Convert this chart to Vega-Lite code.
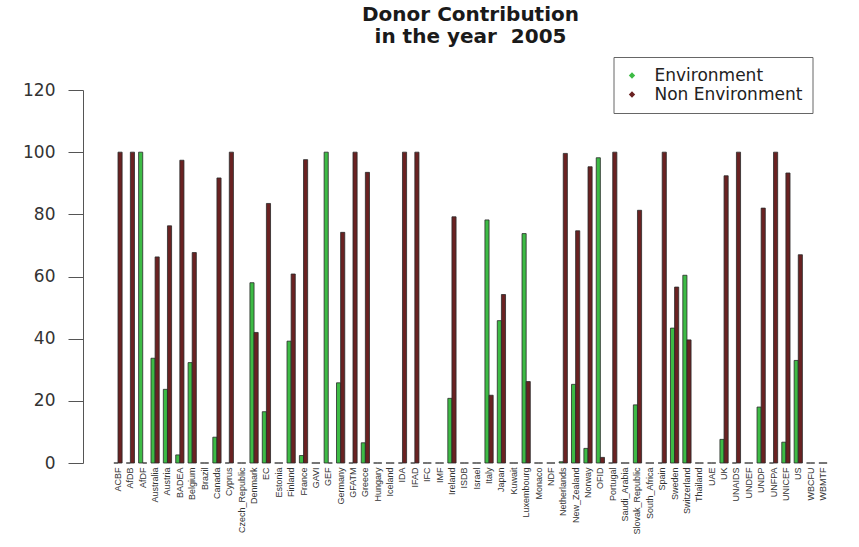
{
  "$schema": "https://vega.github.io/schema/vega-lite/v6.json",
  "autosize": "none",
  "width": 738,
  "height": 373,
  "padding": {"left": 101.5, "top": 90, "right": 19.5, "bottom": 84},
  "background": "white",
  "config": {"view": {"stroke": null}},
  "title": {
    "text": ["Donor Contribution", "in the year \u00a02005"],
    "font": "DejaVu Sans",
    "fontSize": 20,
    "fontWeight": "bold",
    "color": "#1a1a1a",
    "anchor": "middle",
    "frame": "group",
    "offset": 10,
    "lineHeight": 22
  },
  "data": {
    "values": [
      {"donor": "ACBF", "type": "Environment", "value": 0}, {"donor": "ACBF", "type": "Non Environment", "value": 100},
      {"donor": "AfDB", "type": "Environment", "value": 0}, {"donor": "AfDB", "type": "Non Environment", "value": 100},
      {"donor": "AfDF", "type": "Environment", "value": 100}, {"donor": "AfDF", "type": "Non Environment", "value": 0},
      {"donor": "Australia", "type": "Environment", "value": 33.7}, {"donor": "Australia", "type": "Non Environment", "value": 66.3},
      {"donor": "Austria", "type": "Environment", "value": 23.7}, {"donor": "Austria", "type": "Non Environment", "value": 76.3},
      {"donor": "BADEA", "type": "Environment", "value": 2.6}, {"donor": "BADEA", "type": "Non Environment", "value": 97.4},
      {"donor": "Belgium", "type": "Environment", "value": 32.3}, {"donor": "Belgium", "type": "Non Environment", "value": 67.7},
      {"donor": "Brazil", "type": "Environment", "value": 0}, {"donor": "Brazil", "type": "Non Environment", "value": 0},
      {"donor": "Canada", "type": "Environment", "value": 8.3}, {"donor": "Canada", "type": "Non Environment", "value": 91.7},
      {"donor": "Cyprus", "type": "Environment", "value": 0}, {"donor": "Cyprus", "type": "Non Environment", "value": 100},
      {"donor": "Czech_Republic", "type": "Environment", "value": 0}, {"donor": "Czech_Republic", "type": "Non Environment", "value": 0},
      {"donor": "Denmark", "type": "Environment", "value": 58}, {"donor": "Denmark", "type": "Non Environment", "value": 42},
      {"donor": "EC", "type": "Environment", "value": 16.5}, {"donor": "EC", "type": "Non Environment", "value": 83.5},
      {"donor": "Estonia", "type": "Environment", "value": 0}, {"donor": "Estonia", "type": "Non Environment", "value": 0},
      {"donor": "Finland", "type": "Environment", "value": 39.2}, {"donor": "Finland", "type": "Non Environment", "value": 60.8},
      {"donor": "France", "type": "Environment", "value": 2.4}, {"donor": "France", "type": "Non Environment", "value": 97.6},
      {"donor": "GAVI", "type": "Environment", "value": 0}, {"donor": "GAVI", "type": "Non Environment", "value": 0},
      {"donor": "GEF", "type": "Environment", "value": 100}, {"donor": "GEF", "type": "Non Environment", "value": 0},
      {"donor": "Germany", "type": "Environment", "value": 25.8}, {"donor": "Germany", "type": "Non Environment", "value": 74.2},
      {"donor": "GFATM", "type": "Environment", "value": 0}, {"donor": "GFATM", "type": "Non Environment", "value": 100},
      {"donor": "Greece", "type": "Environment", "value": 6.5}, {"donor": "Greece", "type": "Non Environment", "value": 93.5},
      {"donor": "Hungary", "type": "Environment", "value": 0}, {"donor": "Hungary", "type": "Non Environment", "value": 0},
      {"donor": "Iceland", "type": "Environment", "value": 0}, {"donor": "Iceland", "type": "Non Environment", "value": 0},
      {"donor": "IDA", "type": "Environment", "value": 0}, {"donor": "IDA", "type": "Non Environment", "value": 100},
      {"donor": "IFAD", "type": "Environment", "value": 0}, {"donor": "IFAD", "type": "Non Environment", "value": 100},
      {"donor": "IFC", "type": "Environment", "value": 0}, {"donor": "IFC", "type": "Non Environment", "value": 0},
      {"donor": "IMF", "type": "Environment", "value": 0}, {"donor": "IMF", "type": "Non Environment", "value": 0},
      {"donor": "Ireland", "type": "Environment", "value": 20.8}, {"donor": "Ireland", "type": "Non Environment", "value": 79.2},
      {"donor": "ISDB", "type": "Environment", "value": 0}, {"donor": "ISDB", "type": "Non Environment", "value": 0},
      {"donor": "Israel", "type": "Environment", "value": 0}, {"donor": "Israel", "type": "Non Environment", "value": 0},
      {"donor": "Italy", "type": "Environment", "value": 78.2}, {"donor": "Italy", "type": "Non Environment", "value": 21.8},
      {"donor": "Japan", "type": "Environment", "value": 45.8}, {"donor": "Japan", "type": "Non Environment", "value": 54.2},
      {"donor": "Kuwait", "type": "Environment", "value": 0}, {"donor": "Kuwait", "type": "Non Environment", "value": 0},
      {"donor": "Luxembourg", "type": "Environment", "value": 73.8}, {"donor": "Luxembourg", "type": "Non Environment", "value": 26.2},
      {"donor": "Monaco", "type": "Environment", "value": 0}, {"donor": "Monaco", "type": "Non Environment", "value": 0},
      {"donor": "NDF", "type": "Environment", "value": 0}, {"donor": "NDF", "type": "Non Environment", "value": 0},
      {"donor": "Netherlands", "type": "Environment", "value": 0.4}, {"donor": "Netherlands", "type": "Non Environment", "value": 99.6},
      {"donor": "New_Zealand", "type": "Environment", "value": 25.3}, {"donor": "New_Zealand", "type": "Non Environment", "value": 74.7},
      {"donor": "Norway", "type": "Environment", "value": 4.7}, {"donor": "Norway", "type": "Non Environment", "value": 95.3},
      {"donor": "OFID", "type": "Environment", "value": 98.2}, {"donor": "OFID", "type": "Non Environment", "value": 1.8},
      {"donor": "Portugal", "type": "Environment", "value": 0}, {"donor": "Portugal", "type": "Non Environment", "value": 100},
      {"donor": "Saudi_Arabia", "type": "Environment", "value": 0}, {"donor": "Saudi_Arabia", "type": "Non Environment", "value": 0},
      {"donor": "Slovak_Republic", "type": "Environment", "value": 18.7}, {"donor": "Slovak_Republic", "type": "Non Environment", "value": 81.3},
      {"donor": "South_Africa", "type": "Environment", "value": 0}, {"donor": "South_Africa", "type": "Non Environment", "value": 0},
      {"donor": "Spain", "type": "Environment", "value": 0}, {"donor": "Spain", "type": "Non Environment", "value": 100},
      {"donor": "Sweden", "type": "Environment", "value": 43.4}, {"donor": "Sweden", "type": "Non Environment", "value": 56.6},
      {"donor": "Switzerland", "type": "Environment", "value": 60.4}, {"donor": "Switzerland", "type": "Non Environment", "value": 39.6},
      {"donor": "Thailand", "type": "Environment", "value": 0}, {"donor": "Thailand", "type": "Non Environment", "value": 0},
      {"donor": "UAE", "type": "Environment", "value": 0}, {"donor": "UAE", "type": "Non Environment", "value": 0},
      {"donor": "UK", "type": "Environment", "value": 7.6}, {"donor": "UK", "type": "Non Environment", "value": 92.4},
      {"donor": "UNAIDS", "type": "Environment", "value": 0}, {"donor": "UNAIDS", "type": "Non Environment", "value": 100},
      {"donor": "UNDEF", "type": "Environment", "value": 0}, {"donor": "UNDEF", "type": "Non Environment", "value": 0},
      {"donor": "UNDP", "type": "Environment", "value": 18}, {"donor": "UNDP", "type": "Non Environment", "value": 82},
      {"donor": "UNFPA", "type": "Environment", "value": 0}, {"donor": "UNFPA", "type": "Non Environment", "value": 100},
      {"donor": "UNICEF", "type": "Environment", "value": 6.7}, {"donor": "UNICEF", "type": "Non Environment", "value": 93.3},
      {"donor": "US", "type": "Environment", "value": 33}, {"donor": "US", "type": "Non Environment", "value": 67},
      {"donor": "WBCFU", "type": "Environment", "value": 0}, {"donor": "WBCFU", "type": "Non Environment", "value": 0},
      {"donor": "WBMTF", "type": "Environment", "value": 0}, {"donor": "WBMTF", "type": "Non Environment", "value": 0}
    ]
  },
  "mark": {"type": "bar", "stroke": "#2a2a2a", "strokeWidth": 0.8},
  "encoding": {
    "x": {
      "field": "donor",
      "type": "nominal",
      "sort": null,
      "scale": {"paddingInner": 0.333, "paddingOuter": 1},
      "axis": {
        "title": null,
        "domain": false,
        "ticks": false,
        "labelAngle": 270,
        "labelFont": "Liberation Sans",
        "labelFontSize": 9,
        "labelColor": "#333",
        "labelPadding": 4,
        "labelOverlap": false,
        "labelLimit": 200
      }
    },
    "xOffset": {"field": "type", "type": "nominal", "scale": {"paddingInner": 0, "paddingOuter": 0}},
    "y": {
      "field": "value",
      "type": "quantitative",
      "scale": {"domain": [0, 120], "nice": false},
      "axis": {
        "title": null,
        "values": [0, 20, 40, 60, 80, 100, 120],
        "grid": false,
        "offset": 18.5,
        "domainColor": "#555",
        "tickColor": "#555",
        "tickSize": 15,
        "labelPadding": 13,
        "labelFont": "DejaVu Sans",
        "labelFontSize": 17,
        "labelColor": "#333"
      }
    },
    "color": {
      "field": "type",
      "type": "nominal",
      "scale": {"domain": ["Environment", "Non Environment"], "range": ["#3dbb45", "#6a2222"]},
      "legend": {
        "title": null,
        "orient": "none",
        "legendX": 512,
        "legendY": -33,
        "symbolType": "diamond",
        "symbolSize": 40,
        "symbolStrokeWidth": 0,
        "labelFont": "DejaVu Sans",
        "labelFontSize": 17,
        "labelColor": "#222",
        "labelOffset": 14,
        "labelLimit": 300,
        "padding": 10,
        "rowPadding": 1,
        "strokeColor": "#666",
        "fillColor": "white"
      }
    }
  }
}
